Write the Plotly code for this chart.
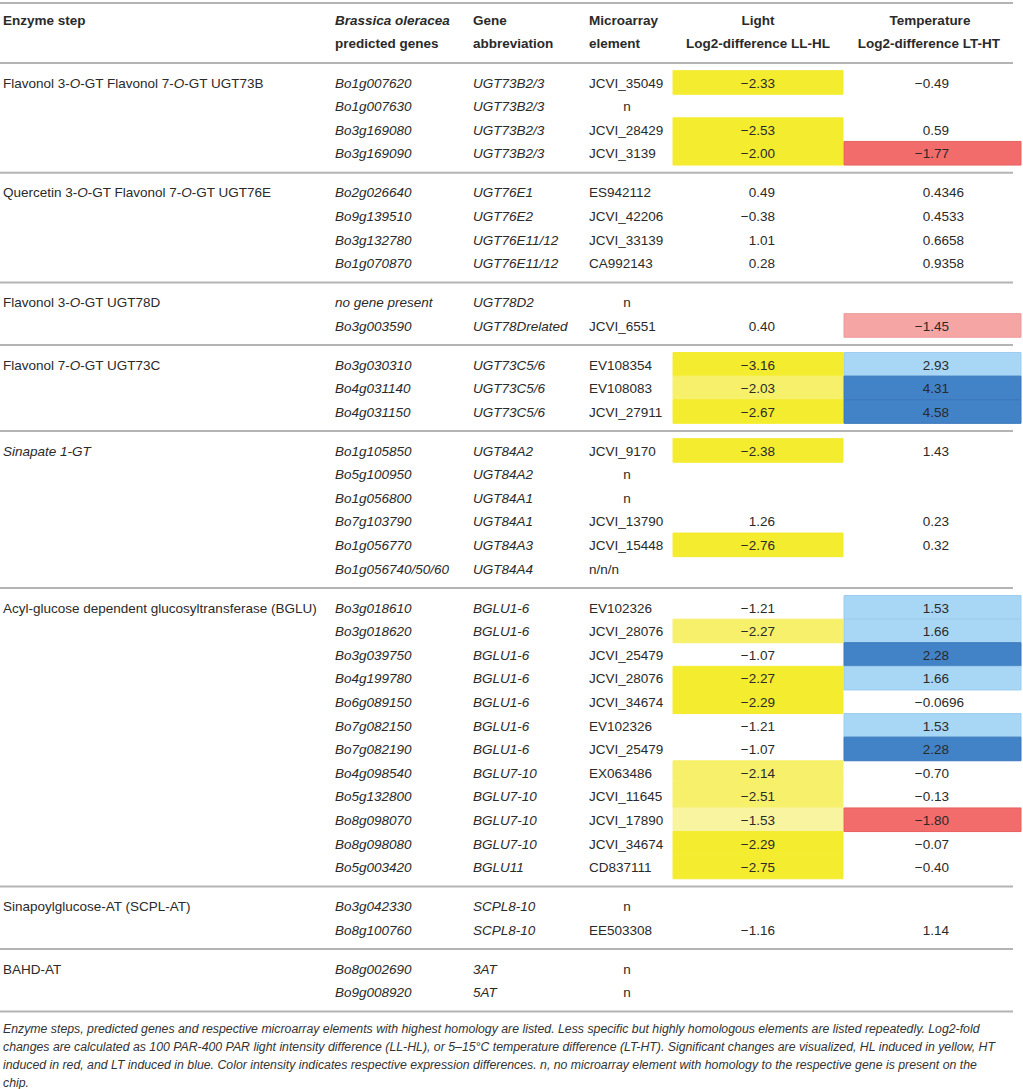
import plotly.graph_objects as go

# ---- table content ----
sections = [
    "Flavonol 3-<i>O</i>-GT Flavonol 7-<i>O</i>-GT UGT73B",
    "Quercetin 3-<i>O</i>-GT Flavonol 7-<i>O</i>-GT UGT76E",
    "Flavonol 3-<i>O</i>-GT UGT78D",
    "Flavonol 7-<i>O</i>-GT UGT73C",
    "<i>Sinapate 1-GT</i>",
    "Acyl-glucose dependent glucosyltransferase (BGLU)",
    "Sinapoylglucose-AT (SCPL-AT)",
    "BAHD-AT",
]
section_sizes = [4, 4, 2, 3, 6, 12, 2, 2]

genes = [
    "Bo1g007620", "Bo1g007630", "Bo3g169080", "Bo3g169090",
    "Bo2g026640", "Bo9g139510", "Bo3g132780", "Bo1g070870",
    "no gene present", "Bo3g003590",
    "Bo3g030310", "Bo4g031140", "Bo4g031150",
    "Bo1g105850", "Bo5g100950", "Bo1g056800", "Bo7g103790", "Bo1g056770", "Bo1g056740/50/60",
    "Bo3g018610", "Bo3g018620", "Bo3g039750", "Bo4g199780", "Bo6g089150", "Bo7g082150",
    "Bo7g082190", "Bo4g098540", "Bo5g132800", "Bo8g098070", "Bo8g098080", "Bo5g003420",
    "Bo3g042330", "Bo8g100760",
    "Bo8g002690", "Bo9g008920",
]

abbrevs = [
    "UGT73B2/3", "UGT73B2/3", "UGT73B2/3", "UGT73B2/3",
    "UGT76E1", "UGT76E2", "UGT76E11/12", "UGT76E11/12",
    "UGT78D2", "UGT78Drelated",
    "UGT73C5/6", "UGT73C5/6", "UGT73C5/6",
    "UGT84A2", "UGT84A2", "UGT84A1", "UGT84A1", "UGT84A3", "UGT84A4",
    "BGLU1-6", "BGLU1-6", "BGLU1-6", "BGLU1-6", "BGLU1-6", "BGLU1-6",
    "BGLU1-6", "BGLU7-10", "BGLU7-10", "BGLU7-10", "BGLU7-10", "BGLU11",
    "SCPL8-10", "SCPL8-10",
    "3AT", "5AT",
]

elements = [
    "JCVI_35049", "n", "JCVI_28429", "JCVI_3139",
    "ES942112", "JCVI_42206", "JCVI_33139", "CA992143",
    "n", "JCVI_6551",
    "EV108354", "EV108083", "JCVI_27911",
    "JCVI_9170", "n", "n", "JCVI_13790", "JCVI_15448", "n/n/n",
    "EV102326", "JCVI_28076", "JCVI_25479", "JCVI_28076", "JCVI_34674", "EV102326",
    "JCVI_25479", "EX063486", "JCVI_11645", "JCVI_17890", "JCVI_34674", "CD837111",
    "n", "EE503308",
    "n", "n",
]

light_diff = [
    "-2.33", "", "-2.53", "-2.00",
    "0.49", "-0.38", "1.01", "0.28",
    "", "0.40",
    "-3.16", "-2.03", "-2.67",
    "-2.38", "", "", "1.26", "-2.76", "",
    "-1.21", "-2.27", "-1.07", "-2.27", "-2.29", "-1.21",
    "-1.07", "-2.14", "-2.51", "-1.53", "-2.29", "-2.75",
    "", "-1.16",
    "", "",
]

temp_diff = [
    "-0.49", "", "0.59", "-1.77",
    "0.4346", "0.4533", "0.6658", "0.9358",
    "", "-1.45",
    "2.93", "4.31", "4.58",
    "1.43", "", "", "0.23", "0.32", "",
    "1.53", "1.66", "2.28", "1.66", "-0.0696", "1.53",
    "2.28", "-0.70", "-0.13", "-1.80", "-0.07", "-0.40",
    "", "1.14",
    "", "",
]

# shading: Y strong yellow, y light yellow, p pale yellow, R red, r light red, B dark blue, b light blue
light_shade = [
    "Y", "", "Y", "Y",
    "", "", "", "",
    "", "",
    "Y", "y", "Y",
    "Y", "", "", "", "Y", "",
    "", "y", "", "Y", "Y", "",
    "", "y", "y", "p", "Y", "Y",
    "", "",
    "", "",
]
temp_shade = [
    "", "", "", "R",
    "", "", "", "",
    "", "r",
    "b", "B", "B",
    "", "", "", "", "", "",
    "b", "b", "B", "b", "", "b",
    "B", "", "", "R", "", "",
    "", "",
    "", "",
]

caption_lines = [
    "Enzyme steps, predicted genes and respective microarray elements with highest homology are listed. Less specific but highly homologous elements are listed repeatedly. Log2-fold",
    "changes are calculated as 100 PAR-400 PAR light intensity difference (LL-HL), or 5–15°C temperature difference (LT-HT). Significant changes are visualized, HL induced in yellow, HT",
    "induced in red, and LT induced in blue. Color intensity indicates respective expression differences. n, no microarray element with homology to the respective gene is present on the",
    "chip.",
]

# ---- layout constants ----
W, H = 1023, 1089
FONT = "Liberation Sans, Arial, Helvetica, sans-serif"
FS = 13.5
TXT = "#2a2a2a"
RULE = "#b4b4b4"
ROW_H = 23.6
SEC_PAD = 15.3
HEAD_LINE = 63
TXT_DY = 1.8          # plotly's "middle" sits a little high; nudge text down
X_ENZ, X_GENE, X_ABBR, X_ELEM, X_ELEM_C = 3, 335, 473, 589, 627
LIGHT_X0, LIGHT_X1, TEMP_X0, TEMP_X1 = 673, 843, 844, 1021
LIGHT_R, TEMP_R = 775, 949
DIGIT_W = 0.556 * FS
RULE_X1 = 1013

fills = {
    "Y": ("#f4ec2f", "#f4ec2f"),
    "y": ("#f6f06a", "#f6f06a"),
    "p": ("#f8f49f", "#f8f49f"),
    "R": ("#f26c6c", "#e85f5f"),
    "r": ("#f6a5a5", "#ee9a9a"),
    "B": ("#4282c6", "#3a77bd"),
    "b": ("#a8d6f5", "#9ccdef"),
}

# row centres and section rules
row_y, sec_first, rules = [], [], [3, HEAD_LINE]
top = HEAD_LINE
for n in section_sizes:
    first = top + SEC_PAD / 2 + ROW_H / 2
    sec_first.append(first)
    row_y += [first + k * ROW_H for k in range(n)]
    top = top + n * ROW_H + SEC_PAD
    rules.append(top)


def fmt(s):
    return s.replace("-", "\u2212", 1) if s.startswith("-") else s


fig = go.Figure()


def text_trace(xs, ys, texts, pos, bold=False, italic=False, size=FS, color=TXT):
    if italic:
        texts = ["<i>%s</i>" % t for t in texts]
    if bold:
        texts = ["<b>%s</b>" % t for t in texts]
    fig.add_trace(go.Scatter(
        x=xs, y=[v + TXT_DY for v in ys], text=texts, mode="text", textposition=pos,
        textfont=dict(family=FONT, size=size, color=color),
        hoverinfo="skip", showlegend=False,
    ))


# header
h1, h2 = 20, 43
text_trace([X_ENZ, X_GENE, X_ABBR, X_ELEM], [h1] * 4,
           ["Enzyme step", "<i>Brassica oleracea</i>", "Gene", "Microarray"],
           "middle right", bold=True)
text_trace([X_GENE, X_ABBR, X_ELEM], [h2] * 3,
           ["predicted genes", "abbreviation", "element"], "middle right", bold=True)
text_trace([758, 930], [h1, h1], ["Light", "Temperature"], "middle center", bold=True)
text_trace([758, 929], [h2, h2], ["Log2-difference LL-HL", "Log2-difference LT-HT"],
           "middle center", bold=True)

# body
text_trace([X_ENZ] * len(sections), sec_first, sections, "middle right")
text_trace([X_GENE] * len(genes), row_y, genes, "middle right", italic=True)
text_trace([X_ABBR] * len(abbrevs), row_y, abbrevs, "middle right", italic=True)

el_left = [(y, e) for y, e in zip(row_y, elements) if e != "n"]
el_n = [y for y, e in zip(row_y, elements) if e == "n"]
text_trace([X_ELEM] * len(el_left), [p[0] for p in el_left], [p[1] for p in el_left], "middle right")
text_trace([X_ELEM_C] * len(el_n), el_n, ["n"] * len(el_n), "middle center")

lv = [(y, v) for y, v in zip(row_y, light_diff) if v]
text_trace([LIGHT_R] * len(lv), [p[0] for p in lv], [fmt(p[1]) for p in lv], "middle left")

tv = [(y, v) for y, v in zip(row_y, temp_diff) if v]
tx = [TEMP_R + (len(v.split(".")[1]) - 2) * DIGIT_W for _, v in tv]
text_trace(tx, [p[0] for p in tv], [fmt(p[1]) for p in tv], "middle left")

# caption
cap_y = [1028 + i * 18.2 for i in range(len(caption_lines))]
text_trace([X_ENZ] * len(caption_lines), cap_y, caption_lines, "middle right",
           italic=True, size=12.3, color="#333333")

# cell shading
shapes = []
for y, code in zip(row_y, light_shade):
    if code:
        f, l = fills[code]
        shapes.append(dict(type="rect", xref="x", yref="y", x0=LIGHT_X0, x1=LIGHT_X1,
                           y0=y - ROW_H / 2, y1=y + ROW_H / 2, fillcolor=f,
                           line=dict(color=l, width=1), layer="below"))
for y, code in zip(row_y, temp_shade):
    if code:
        f, l = fills[code]
        shapes.append(dict(type="rect", xref="x", yref="y", x0=TEMP_X0, x1=TEMP_X1,
                           y0=y - ROW_H / 2, y1=y + ROW_H / 2, fillcolor=f,
                           line=dict(color=l, width=1), layer="below"))
for y in rules:
    shapes.append(dict(type="line", xref="x", yref="y", x0=0, x1=RULE_X1, y0=y, y1=y,
                       line=dict(color=RULE, width=2), layer="below"))

fig.update_layout(
    width=W, height=H,
    margin=dict(l=0, r=0, t=0, b=0),
    paper_bgcolor="white", plot_bgcolor="white",
    xaxis=dict(range=[0, W], visible=False, fixedrange=True),
    yaxis=dict(range=[H, 0], visible=False, fixedrange=True),
    shapes=shapes,
    showlegend=False,
)

# page body has a default 8px margin; drop it so the table sits at the window corner
fig.write_html("out.html", config={"displayModeBar": False},
               post_script="document.body.style.margin='0';document.body.style.overflow='hidden';")
